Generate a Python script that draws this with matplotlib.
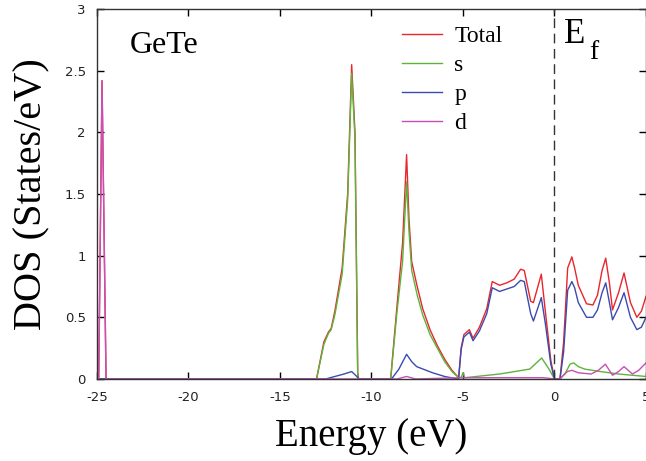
import numpy as np
import matplotlib
matplotlib.use("Agg")
import matplotlib.pyplot as plt

## Daten
e_total = [-24.9, -24.72, -24.5, -13.0, -12.6, -12.35, -12.2, -12.0, -11.6, -11.3, -11.08, -10.9, -10.75, -10.7,
           -8.95, -8.6, -8.3, -8.08, -7.95, -7.8, -7.5, -7.2, -6.8, -6.4, -6.0, -5.6, -5.3, -5.24,
           -5.1, -4.95, -4.65, -4.45, -4.1, -3.7, -3.4, -3.0, -2.6, -2.2, -1.85, -1.65, -1.3, -1.15,
           -0.72, -0.5, -0.2, 0.0, 0.3, 0.5, 0.72, 0.95, 1.1, 1.3, 1.75, 2.1, 2.35, 2.6, 2.8, 3.0, 3.17,
           3.5, 3.8, 4.15, 4.5, 4.75, 5.0]
dos_total = [0.0, 2.42, 0.0, 0.0, 0.3, 0.38, 0.41, 0.55, 0.9, 1.5, 2.55, 2.0, 0.05, 0.0,
             0.0, 0.6, 1.1, 1.82, 1.3, 0.95, 0.75, 0.57, 0.40, 0.27, 0.16, 0.07, 0.02, 0.0,
             0.25, 0.36, 0.40, 0.33, 0.42, 0.57, 0.79, 0.76, 0.78, 0.81, 0.89, 0.88, 0.63, 0.62,
             0.85, 0.55, 0.15, 0.0, 0.0, 0.3, 0.9, 0.99, 0.9, 0.76, 0.61, 0.60, 0.68, 0.88, 0.98, 0.78, 0.56,
             0.70, 0.86, 0.62, 0.5, 0.55, 0.67]

e_s = [-25.0, -13.0, -12.6, -12.35, -12.2, -12.0, -11.6, -11.3, -11.08, -10.9, -10.75, -10.7,
       -8.95, -8.6, -8.3, -8.08, -7.95, -7.8, -7.5, -7.2, -6.8, -6.4, -6.0, -5.6, -5.3, -5.1,
       -5.0, -4.9, -3.0, -1.35, -0.7, -0.3, 0.0, 0.3, 0.6, 0.85, 1.05, 1.3, 1.65, 2.5, 3.5, 5.0]
dos_s = [0.0, 0.0, 0.28, 0.37, 0.40, 0.52, 0.85, 1.45, 2.48, 1.95, 0.02, 0.0,
         0.0, 0.55, 0.95, 1.6, 1.2, 0.88, 0.68, 0.52, 0.36, 0.25, 0.14, 0.06, 0.02, 0.01,
         0.05, 0.01, 0.04, 0.08, 0.17, 0.08, 0.0, 0.0, 0.05, 0.12, 0.13, 0.10, 0.08, 0.06, 0.04, 0.02]

e_p = [-25.0, -12.5, -12.0, -11.5, -11.08, -10.8, -10.7, -8.9, -8.5, -8.08, -7.8, -7.53, -6.66, -6.0, -5.3, -5.24,
       -5.1, -4.95, -4.65, -4.45, -4.1, -3.7, -3.4, -3.0, -2.6, -2.2, -1.85, -1.65, -1.3, -1.15,
       -0.72, -0.5, -0.2, 0.0, 0.3, 0.5, 0.72, 0.95, 1.1, 1.3, 1.75, 2.1, 2.35, 2.6, 2.8, 3.0, 3.17,
       3.5, 3.8, 4.15, 4.5, 4.75, 5.0]
dos_p = [0.0, 0.0, 0.02, 0.04, 0.06, 0.02, 0.0, 0.0, 0.08, 0.2, 0.14, 0.1, 0.05, 0.02, 0.0, 0.0,
         0.24, 0.34, 0.38, 0.31, 0.39, 0.53, 0.74, 0.71, 0.73, 0.75, 0.80, 0.79, 0.53, 0.47,
         0.66, 0.45, 0.12, 0.0, 0.0, 0.22, 0.72, 0.79, 0.74, 0.62, 0.50, 0.50, 0.56, 0.70, 0.78, 0.62, 0.48,
         0.58, 0.70, 0.50, 0.40, 0.42, 0.50]

e_d = [-24.9, -24.72, -24.5, -8.6, -8.08, -7.6, -5.0, -0.6, 0.0, 0.3, 0.7, 0.95, 1.3, 2.0, 2.4, 2.78,
       3.17, 3.5, 3.8, 4.26, 4.6, 5.0]
dos_d = [0.0, 2.42, 0.0, 0.0, 0.02, 0.0, 0.01, 0.01, 0.0, 0.0, 0.06, 0.07, 0.05, 0.04, 0.07, 0.12,
         0.03, 0.06, 0.10, 0.04, 0.07, 0.13]

xticks = [-25, -20, -15, -10, -5, 0, 5]
yticks = [0, 0.5, 1, 1.5, 2, 2.5, 3]

## Plotten
serif = ['Liberation Serif', 'DejaVu Serif']
fig = plt.figure(figsize=(6.46, 4.61), dpi=100)
ax = fig.add_axes([0.150, 0.178, 0.850, 0.802])

ax.plot(e_total, dos_total, c='#e8262c', lw=1.0, label='Total')
ax.plot(e_s, dos_s, c='#5cb53a', lw=1.0, label='s')
ax.plot(e_p, dos_p, c='#3a4bb0', lw=1.0, label='p')
ax.plot(e_d, dos_d, c='#c64fb8', lw=1.0, label='d')
ax.axvline(0, c='#333333', lw=1.0, linestyle=(0, (7, 4)))

ax.set_xlim([-25, 5])
ax.set_ylim([0, 3])
ax.set_xticks(xticks)
ax.set_yticks(yticks)
ax.set_xticklabels([str(t) for t in xticks])
ax.set_yticklabels(['0', '0.5', '1', '1.5', '2', '2.5', '3'])
ax.tick_params(direction='in', length=5, width=1, top=True, right=True,
               labelsize=9.5, labelcolor='#222222')
ax.tick_params(axis='x', pad=9)
ax.tick_params(axis='y', pad=8)
for sp in ax.spines.values():
    sp.set_linewidth(1.0)
    sp.set_color('#333333')

ax.set_xlabel('Energy (eV)', family=serif, fontsize=28, labelpad=10)
ax.set_ylabel('DOS (States/eV)', family=serif, fontsize=29, labelpad=10)

ax.text(0.060, 0.881, 'GeTe', transform=ax.transAxes, family=serif, fontsize=23, va='baseline')
ax.text(0.851, 0.908, 'E', transform=ax.transAxes, family=serif, fontsize=25, va='baseline')
ax.text(0.896, 0.865, 'f', transform=ax.transAxes, family=serif, fontsize=20, va='baseline')

leg = ax.legend(loc='upper left', bbox_to_anchor=(0.556, 0.955), frameon=False,
                prop={'family': serif, 'size': 17}, handlelength=1.7,
                handletextpad=0.5, labelspacing=0.31, borderaxespad=0.0, borderpad=0.0)

fig.savefig('out.png', dpi=100)
